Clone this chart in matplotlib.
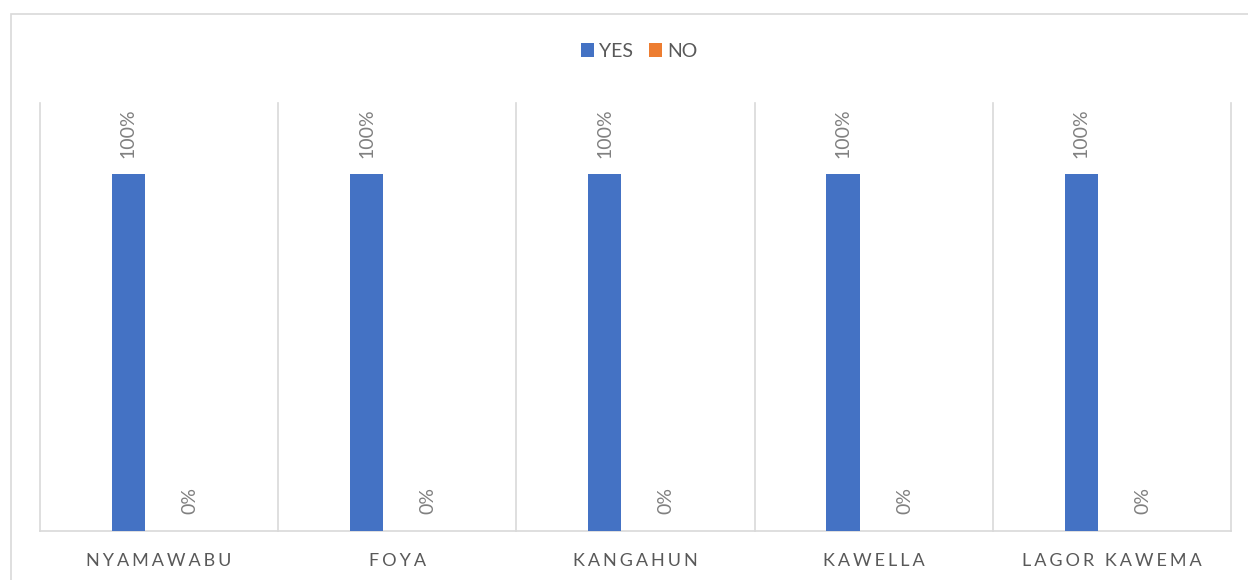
import numpy as np
import matplotlib
matplotlib.use('Agg')
import matplotlib.pyplot as plt
from matplotlib.patches import Rectangle

plt.rcParams['font.family'] = ['Lato', 'DejaVu Sans']

# ─── 数据 ───
categories = ["NYAMAWABU", "FOYA", "KANGAHUN", "KAWELLA", "LAGOR KAWEMA"]
yes_vals = [1.0, 1.0, 1.0, 1.0, 1.0]
no_vals = [0.0, 0.0, 0.0, 0.0, 0.0]
series_names = ["YES", "NO"]

BLUE = '#4472C4'
ORANGE = '#ED7D31'
GRID = '#D9D9D9'
TEXT = '#595959'
LABEL = '#808080'

W, H = 1248, 580
fig = plt.figure(figsize=(W / 100, H / 100), dpi=100)
ax = fig.add_axes([40 / W, 1 - 531 / H, (1231 - 40) / W, (531 - 103) / H])

# 外框
fig.add_artist(Rectangle((11 / W, -0.1), 1.2, 0.1 + 1 - 14 / H, transform=fig.transFigure,
                         fill=False, edgecolor=GRID, linewidth=1.2))

x = np.arange(len(categories))
bw = 0.139
off = 0.129
b1 = ax.bar(x - off, yes_vals, bw, color=BLUE, label=series_names[0], zorder=3)
b2 = ax.bar(x + off, no_vals, bw, color=ORANGE, label=series_names[1], zorder=3)

for bars in (b1, b2):
    ax.bar_label(bars, labels=[f"{v:.0%}" for v in bars.datavalues], rotation=90,
                 padding=12, color=LABEL, fontsize=14)

ax.set_xlim(-0.5, len(categories) - 0.5)
ax.set_ylim(0, 1.2)
ax.set_yticks([])

# 分类分隔线
for b in np.arange(-0.5, len(categories)):
    ax.axvline(b, color=GRID, linewidth=1.2, zorder=1, clip_on=False)

for s in ['top', 'left', 'right']:
    ax.spines[s].set_visible(False)
ax.spines['bottom'].set_color(GRID)
ax.spines['bottom'].set_linewidth(1.2)

# 字母间距：用窄空格模拟
spaced = ["\u2006".join(list(c)) for c in categories]
ax.set_xticks(x)
ax.set_xticklabels(spaced, fontsize=13, color=TEXT)
ax.tick_params(axis='x', length=0, pad=16)

fig.legend(handles=[b1, b2], labels=series_names, loc='center',
           bbox_to_anchor=(639 / W, 1 - 51.5 / H), ncol=2, frameon=False,
           fontsize=14, labelcolor=TEXT, handlelength=0.7, handleheight=0.7,
           handletextpad=0.25, columnspacing=0.8)

fig.savefig('out.png', dpi=100)
